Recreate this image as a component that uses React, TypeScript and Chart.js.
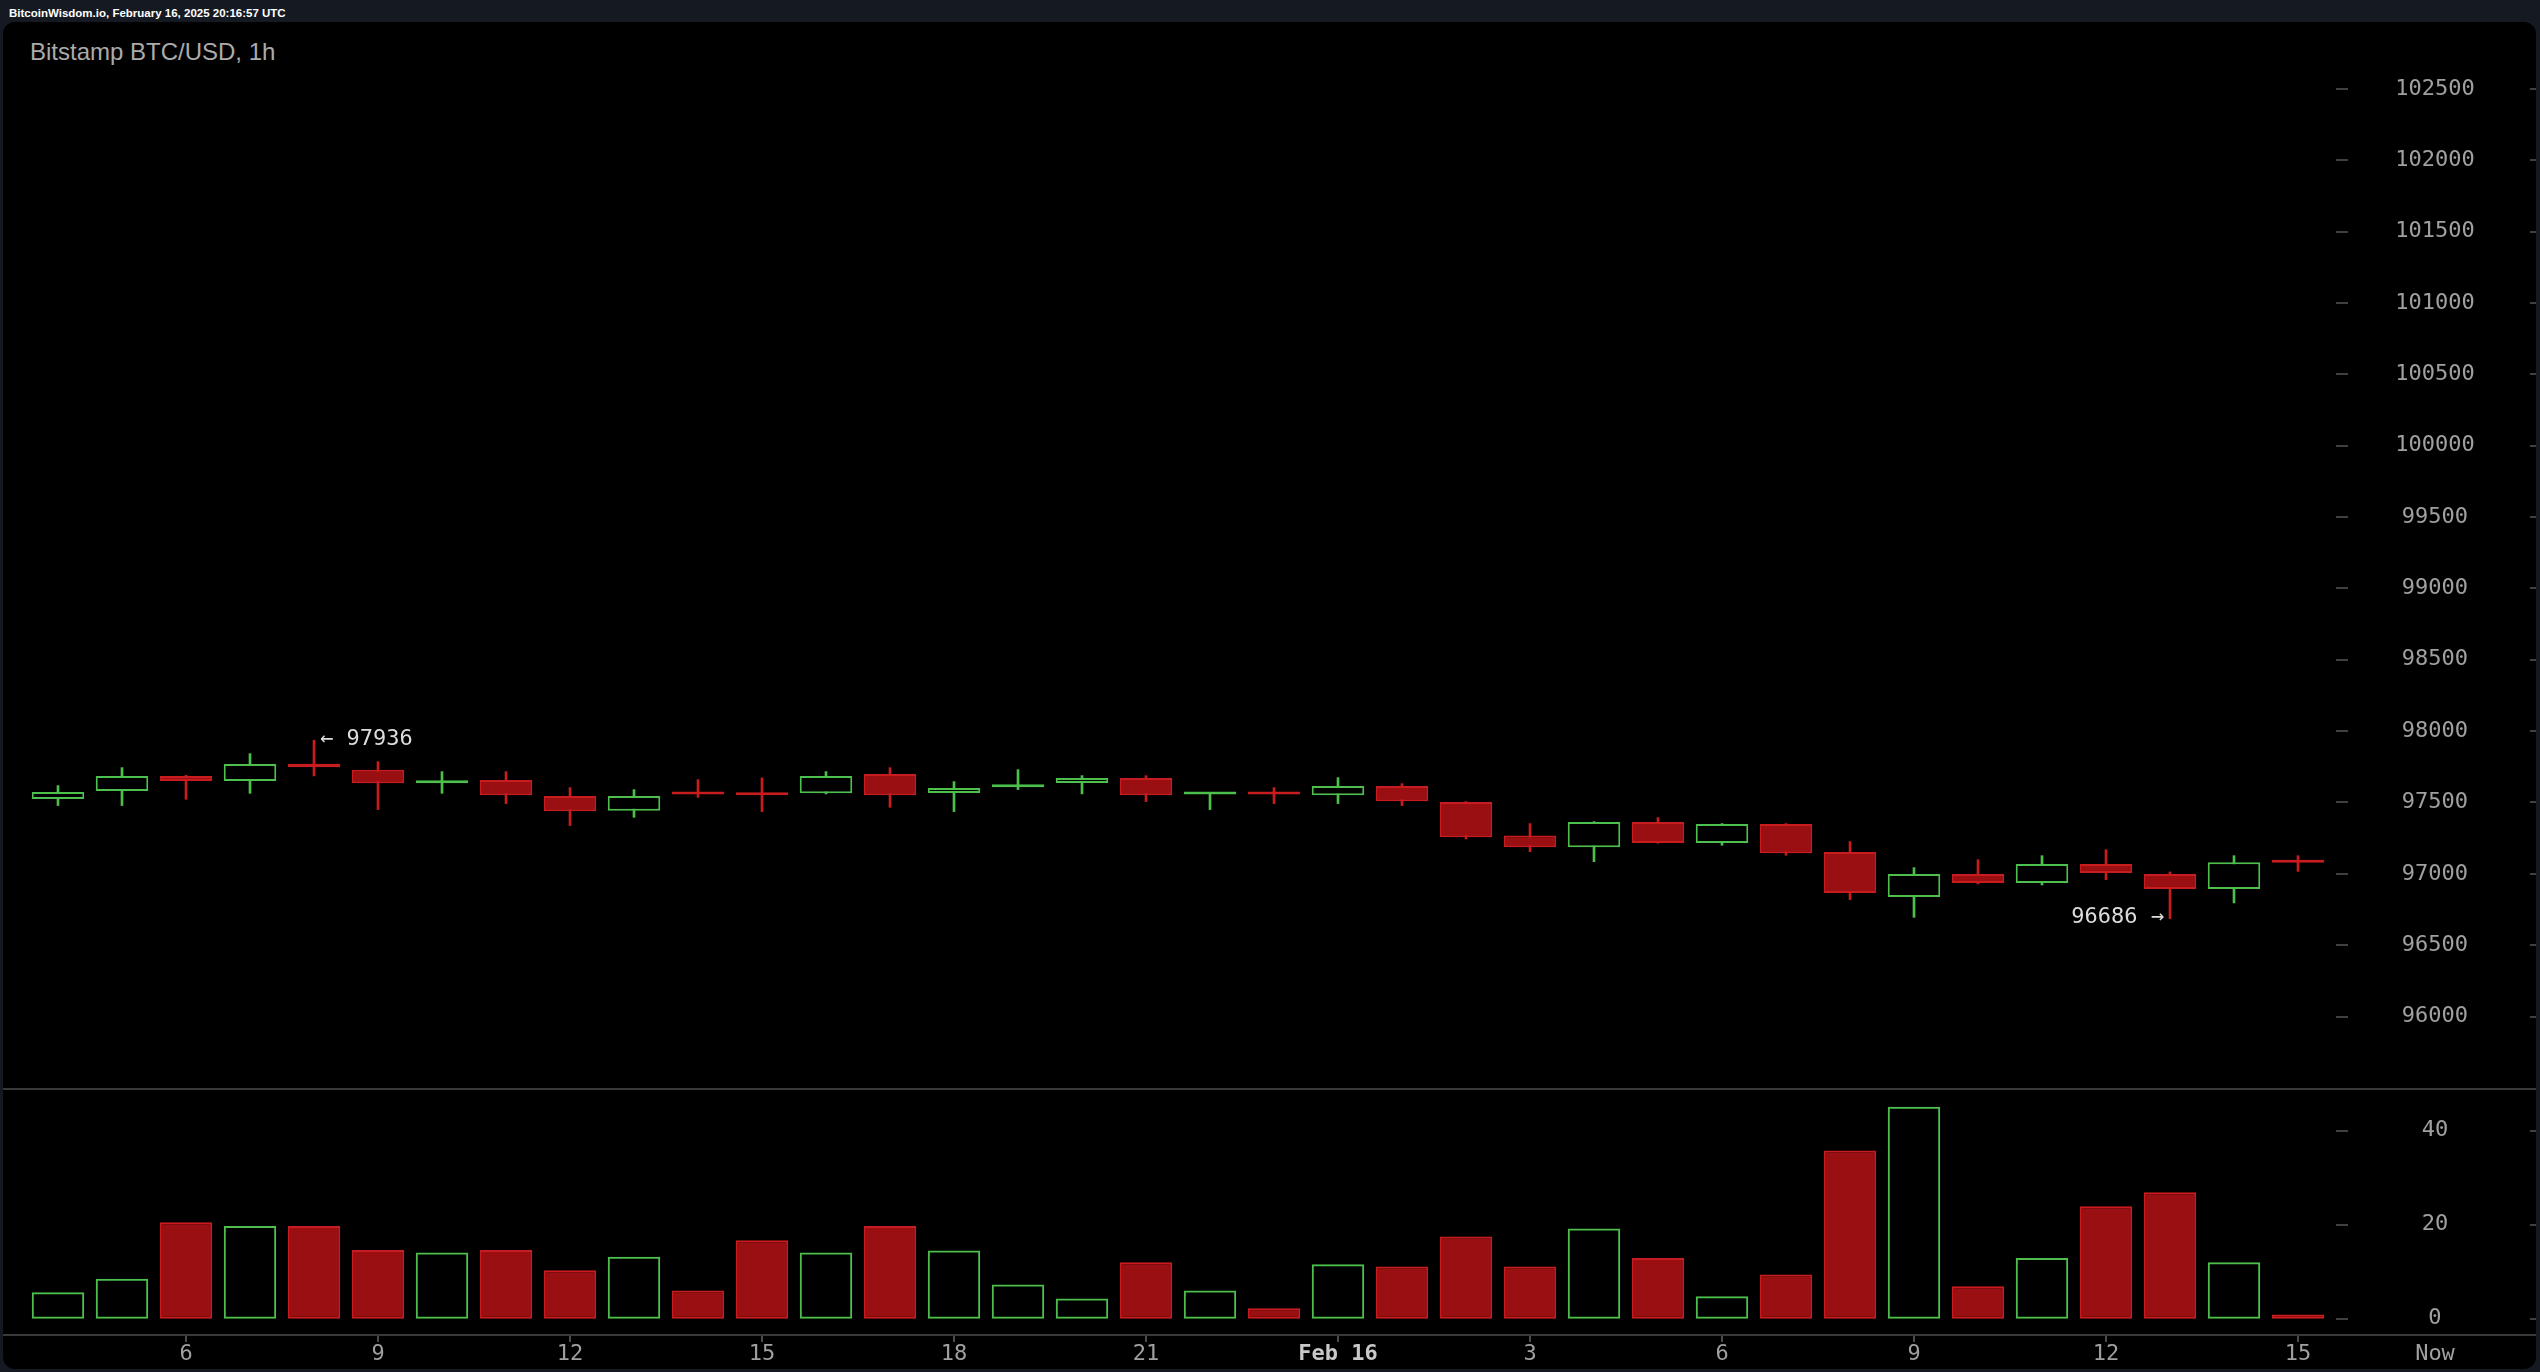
import React, { useEffect, useRef } from 'react';
import { Chart, registerables } from 'chart.js';

Chart.register(...registerables);

// ---- data ----
const categories = [
  '4', '5', '6', '7', '8', '9', '10', '11', '12', '13', '14', '15', '16', '17', '18', '19', '20', '21', '22', '23',
  'Feb 16', '1', '2', '3', '4', '5', '6', '7', '8', '9', '10', '11', '12', '13', '14', '15',
];
const tickLabels = ['6', '9', '12', '15', '18', '21', 'Feb 16', '3'];

const opens = [
  97525, 97581, 97686, 97651, 97772, 97730, 97634, 97658, 97546, 97441, 97570, 97560,
  97564, 97700, 97567, 97606, 97637, 97672, 97555, 97558, 97550, 97616, 97504, 97268,
  97186, 97363, 97216, 97349, 97153, 96838, 96999, 96936, 97069, 96999, 96894, 97082,
];
const closes = [
  97574, 97686, 97651, 97770, 97746, 97634, 97652, 97550, 97438, 97546, 97555, 97550,
  97686, 97550, 97602, 97625, 97672, 97550, 97558, 97555, 97616, 97508, 97256, 97186,
  97363, 97216, 97349, 97144, 96866, 96999, 96936, 97069, 97006, 96894, 97081, 97078,
];
const highs = [
  97618, 97744, 97690, 97842, 97936, 97786, 97716, 97716, 97604, 97590, 97660, 97672,
  97716, 97744, 97646, 97730, 97688, 97688, 97560, 97604, 97674, 97632, 97506, 97352,
  97366, 97394, 97352, 97352, 97226, 97043, 97099, 97127, 97169, 97013, 97127, 97127,
];
const lows = [
  97478, 97478, 97522, 97564, 97686, 97450, 97564, 97492, 97338, 97396, 97536, 97436,
  97560, 97466, 97436, 97590, 97560, 97506, 97450, 97492, 97492, 97478, 97244, 97155,
  97085, 97214, 97200, 97130, 96819, 96695, 96930, 96922, 96959, 96686, 96796, 97017,
];
const volumes = [
  5.6, 8.5, 20.5, 19.7, 19.7, 14.6, 14.1, 14.6, 10.3, 13.2, 6.0, 16.7,
  14.1, 19.7, 14.5, 7.3, 4.3, 12.0, 6.0, 2.2, 11.6, 11.1, 17.5, 11.1,
  19.2, 12.9, 4.8, 9.4, 35.8, 45.1, 6.9, 12.9, 23.9, 26.9, 12.0, 0.9,
];

const priceTicks = [96000, 96500, 97000, 97500, 98000, 98500, 99000, 99500, 100000, 100500, 101000, 101500, 102000, 102500];
const volTicks = [0, 20, 40];
const priceMin = 95492;
const priceMax = 102948;
const volMin = -3.47;
const volMax = 48.87;

// ---- styles ----
const W = 2540;
const H = 1372;
const GREEN = '#4cbf4c';
const RED_LINE = '#c91c1f';
const RED_FILL = '#9a0f12';
const MONO = "'DejaVu Sans Mono', monospace";
const AXIS_COLOR = '#a0a0a0';
const PAD_LEFT = 26;
const Y_AXIS_W = 210;
const PRICE_BOTTOM = 1089;
const X_AXIS_H = 37;
const X_LABEL_PAD = -1;

function fitYAxis(s: any) {
  s.width = Y_AXIS_W;
  s.paddingTop = 0;
  s.paddingBottom = 0;
}

function drawDashes(chart: any) {
  const ctx = chart.ctx;
  const ys = chart.scales.y;
  const right = chart.chartArea.right;
  ctx.save();
  ctx.strokeStyle = '#404040';
  ctx.lineWidth = 2;
  ys.ticks.forEach((t: any) => {
    const y = Math.round(ys.getPixelForValue(t.value));
    ctx.beginPath();
    ctx.moveTo(right + 6, y);
    ctx.lineTo(right + 18, y);
    ctx.moveTo(right + 200, y);
    ctx.lineTo(right + 206, y);
    ctx.stroke();
  });
  ctx.restore();
}

export default function App() {
  const priceRef = useRef<HTMLCanvasElement>(null);
  const volRef = useRef<HTMLCanvasElement>(null);

  useEffect(() => {
    const up = opens.map((o, i) => closes[i] >= o);

    const priceChart = new Chart(priceRef.current as HTMLCanvasElement, {
      type: 'bar',
      data: {
        labels: categories,
        datasets: [
          {
            label: 'body',
            data: opens.map((o, i) => [o, closes[i]]) as any,
            backgroundColor: up.map((u) => (u ? '#000000' : RED_FILL)),
            borderColor: up.map((u) => (u ? GREEN : RED_LINE)),
            borderWidth: 2,
            borderSkipped: false,
            barPercentage: 0.82,
            categoryPercentage: 1,
            minBarLength: 3,
            grouped: false,
            order: 0,
          } as any,
          {
            label: 'wick',
            data: lows.map((l, i) => [l, highs[i]]) as any,
            backgroundColor: up.map((u) => (u ? GREEN : RED_LINE)),
            borderWidth: 0,
            barThickness: 2,
            grouped: false,
            order: 1,
          } as any,
        ],
      },
      options: {
        responsive: false,
        animation: false,
        devicePixelRatio: 1,
        events: [],
        layout: { padding: { left: PAD_LEFT, right: 0, top: 25, bottom: H - PRICE_BOTTOM } },
        plugins: { legend: { display: false }, tooltip: { enabled: false } },
        scales: {
          x: { display: false, offset: true },
          y: {
            position: 'right',
            min: priceMin,
            max: priceMax,
            afterFit: fitYAxis,
            afterBuildTicks: (s: any) => { s.ticks = priceTicks.map((v) => ({ value: v })); },
            grid: { display: false, drawTicks: false },
            border: { display: false },
            ticks: {
              color: AXIS_COLOR,
              font: { family: MONO, size: 22 },
              padding: 65.25,
              crossAlign: 'center',
              autoSkip: false,
              callback: (v: any) => String(v),
            },
          } as any,
        },
      },
      plugins: [
        {
          id: 'priceExtras',
          afterDraw(chart: any) {
            drawDashes(chart);
            const ctx = chart.ctx;
            const xs = chart.scales.x;
            const ys = chart.scales.y;
            const hi = Math.max(...highs);
            const hiIdx = highs.indexOf(hi);
            const lo = Math.min(...lows);
            const loIdx = lows.indexOf(lo);
            ctx.save();
            ctx.font = `22px ${MONO}`;
            ctx.fillStyle = '#dcdcdc';
            ctx.textBaseline = 'middle';
            ctx.textAlign = 'left';
            ctx.fillText('\u2190 ' + hi, xs.getPixelForValue(hiIdx) + 6, ys.getPixelForValue(hi) - 1);
            ctx.textAlign = 'right';
            ctx.fillText(lo + ' \u2192', xs.getPixelForValue(loIdx) - 6, ys.getPixelForValue(lo) - 1);
            ctx.restore();
          },
        },
      ],
    });

    const volChart = new Chart(volRef.current as HTMLCanvasElement, {
      type: 'bar',
      data: {
        labels: categories,
        datasets: [
          {
            label: 'volume',
            data: volumes,
            backgroundColor: up.map((u) => (u ? 'rgba(0,0,0,0)' : RED_FILL)),
            borderColor: up.map((u) => (u ? GREEN : RED_LINE)),
            borderWidth: 2,
            borderSkipped: false,
            barPercentage: 0.82,
            categoryPercentage: 1,
          } as any,
        ],
      },
      options: {
        responsive: false,
        animation: false,
        devicePixelRatio: 1,
        events: [],
        layout: { padding: { left: PAD_LEFT, right: 0, top: PRICE_BOTTOM, bottom: 0 } },
        plugins: { legend: { display: false }, tooltip: { enabled: false } },
        scales: {
          x: {
            position: 'bottom',
            offset: true,
            afterFit: (s: any) => { s.height = X_AXIS_H; },
            afterBuildTicks: (s: any) => {
              s.ticks = s.ticks.filter((t: any) => tickLabels.includes(categories[t.value]));
            },
            grid: {
              display: true,
              drawOnChartArea: false,
              drawTicks: true,
              tickLength: 7,
              color: '#4a4a4a',
              lineWidth: 2,
              offset: false,
            },
            border: { display: false },
            ticks: {
              autoSkip: false,
              maxRotation: 0,
              padding: X_LABEL_PAD,
              color: (c: any) => (c.tick && c.tick.label === 'Feb 16' ? '#c8c8c8' : AXIS_COLOR),
              font: (c: any) =>
                c.tick && c.tick.label === 'Feb 16'
                  ? { family: MONO, size: 22, weight: 'bold' }
                  : { family: MONO, size: 22 },
            },
          } as any,
          y: {
            position: 'right',
            min: volMin,
            max: volMax,
            afterFit: fitYAxis,
            afterBuildTicks: (s: any) => { s.ticks = volTicks.map((v) => ({ value: v })); },
            grid: { display: false, drawTicks: false },
            border: { display: false },
            ticks: {
              color: AXIS_COLOR,
              font: { family: MONO, size: 22 },
              padding: 91.75,
              crossAlign: 'center',
              autoSkip: false,
              callback: (v: any) => String(v),
            },
          } as any,
        },
      },
      plugins: [
        {
          id: 'volExtras',
          afterDraw(chart: any) {
            const ctx = chart.ctx;
            const ca = chart.chartArea;
            ctx.save();
            ctx.strokeStyle = '#3a3a3a';
            ctx.lineWidth = 2;
            ctx.beginPath();
            ctx.moveTo(3, ca.top);
            ctx.lineTo(2536, ca.top);
            ctx.moveTo(3, ca.bottom);
            ctx.lineTo(2536, ca.bottom);
            ctx.stroke();
            ctx.restore();
            drawDashes(chart);
            ctx.save();
            ctx.font = `22px ${MONO}`;
            ctx.fillStyle = AXIS_COLOR;
            ctx.textAlign = 'center';
            ctx.textBaseline = 'middle';
            ctx.fillText('Now', ca.right + 105, ca.bottom + 7 + X_LABEL_PAD + 13.2);
            ctx.restore();
          },
        },
      ],
    });

    return () => {
      priceChart.destroy();
      volChart.destroy();
    };
  }, []);

  return (
    <div style={{ position: 'fixed', left: 0, top: 0, width: W, height: H, background: '#151922', overflow: 'hidden' }}>
      <div
        style={{
          position: 'absolute', left: 9, top: 6, font: 'bold 11.5px "Liberation Sans", Arial, sans-serif',
          lineHeight: '14px', color: '#ffffff', whiteSpace: 'nowrap',
        }}
      >
        BitcoinWisdom.io, February 16, 2025 20:16:57 UTC
      </div>
      <div style={{ position: 'absolute', left: 3, top: 22, width: 2533, height: 1347, background: '#000', borderRadius: 12 }} />
      <div
        style={{
          position: 'absolute', left: 30, top: 38, font: '24px "Liberation Sans", Arial, sans-serif',
          lineHeight: '28px', color: '#ababab', whiteSpace: 'nowrap',
        }}
      >
        Bitstamp BTC/USD, 1h
      </div>
      <canvas ref={priceRef} width={W} height={H} style={{ position: 'absolute', left: 0, top: 0 }} />
      <canvas ref={volRef} width={W} height={H} style={{ position: 'absolute', left: 0, top: 0 }} />
    </div>
  );
}
